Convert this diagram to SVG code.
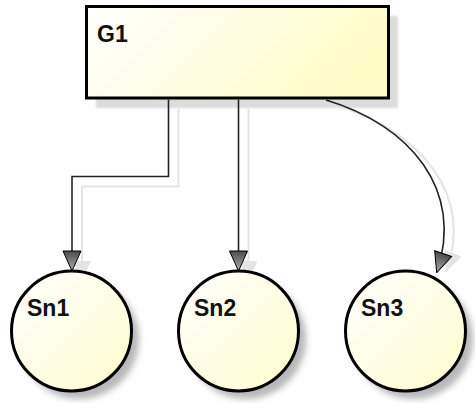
<svg xmlns="http://www.w3.org/2000/svg" width="475" height="403" viewBox="0 0 475 403">
  <defs>
    <linearGradient id="nodeFill" x1="0" y1="0" x2="1" y2="1">
      <stop offset="0" stop-color="#ffffff"/>
      <stop offset="1" stop-color="#fffccc"/>
    </linearGradient>
    <linearGradient id="rectFill" x1="0" y1="0" x2="1" y2="0.3">
      <stop offset="0" stop-color="#ffffff"/>
      <stop offset="1" stop-color="#fffcc8"/>
    </linearGradient>
    <linearGradient id="arrowFill" x1="0" y1="0" x2="1" y2="0">
      <stop offset="0" stop-color="#4a4a4a"/>
      <stop offset="1" stop-color="#b0b0b0"/>
    </linearGradient>
    <filter id="soft" x="-20%" y="-20%" width="140%" height="140%">
      <feGaussianBlur stdDeviation="3"/>
    </filter>
    <filter id="softRect" x="-5%" y="-10%" width="110%" height="120%">
      <feGaussianBlur stdDeviation="1"/>
    </filter>
    <marker id="arrow" markerUnits="userSpaceOnUse" viewBox="0 0 22 20" refX="21" refY="10" markerWidth="22" markerHeight="20" orient="auto">
      <path d="M1,1 L21,10 L1,19 Z" fill="url(#arrowFill)" stroke="#000" stroke-width="1"/>
    </marker>
    <marker id="arrowShadow" markerUnits="userSpaceOnUse" viewBox="0 0 22 20" refX="21" refY="10" markerWidth="22" markerHeight="20" orient="auto">
      <path d="M1,1 L21,10 L1,19 Z" fill="#e4e4e4"/>
    </marker>
  </defs>
  <style>
    .lbl { font-family: "Liberation Sans", Arial, sans-serif; font-weight: bold; font-size: 23px; fill: #111; }
    .node { fill: url(#nodeFill); stroke: #000; stroke-width: 3; }
    .shadowC { fill: #b8b8b8; filter: url(#soft); }
    .conn { fill: none; stroke: #222; stroke-width: 1.6; marker-end: url(#arrow); }
    .connShadow { fill: none; stroke: #e4e4e4; stroke-width: 2; marker-end: url(#arrowShadow); }
  </style>

  <g id="connector-shadows">
    <path class="connShadow" d="M178.5,109 V186.5 H82 V281"/>
    <path class="connShadow" d="M248.5,109 V281"/>
    <path class="connShadow" d="M333,104 C420,130 475,195 446,272"/>
  </g>

  <g id="G1">
    <rect x="96" y="16" width="302" height="92" fill="#dcdcdc" filter="url(#softRect)"/>
    <rect x="86.5" y="6.5" width="302" height="91.5" fill="url(#rectFill)" stroke="#000" stroke-width="3"/>
    <text class="lbl" x="97" y="42">G1</text>
  </g>

  <g id="connectors">
    <path class="conn" d="M168.5,99.5 V176.5 H72 V271"/>
    <path class="conn" d="M238.5,99.5 V271"/>
    <path class="conn" d="M326,100 C410,125 465,190 436.7,272.5"/>
  </g>

  <g id="Sn1">
    <circle class="shadowC" cx="79" cy="339" r="60"/>
    <circle class="node" cx="71.5" cy="331" r="60"/>
    <text class="lbl" x="27" y="316">Sn1</text>
  </g>
  <g id="Sn2">
    <circle class="shadowC" cx="246" cy="339" r="60"/>
    <circle class="node" cx="238.5" cy="331" r="60"/>
    <text class="lbl" x="194" y="316">Sn2</text>
  </g>
  <g id="Sn3">
    <circle class="shadowC" cx="413" cy="339" r="60"/>
    <circle class="node" cx="405.5" cy="331" r="60"/>
    <text class="lbl" x="361" y="316">Sn3</text>
  </g>
</svg>
